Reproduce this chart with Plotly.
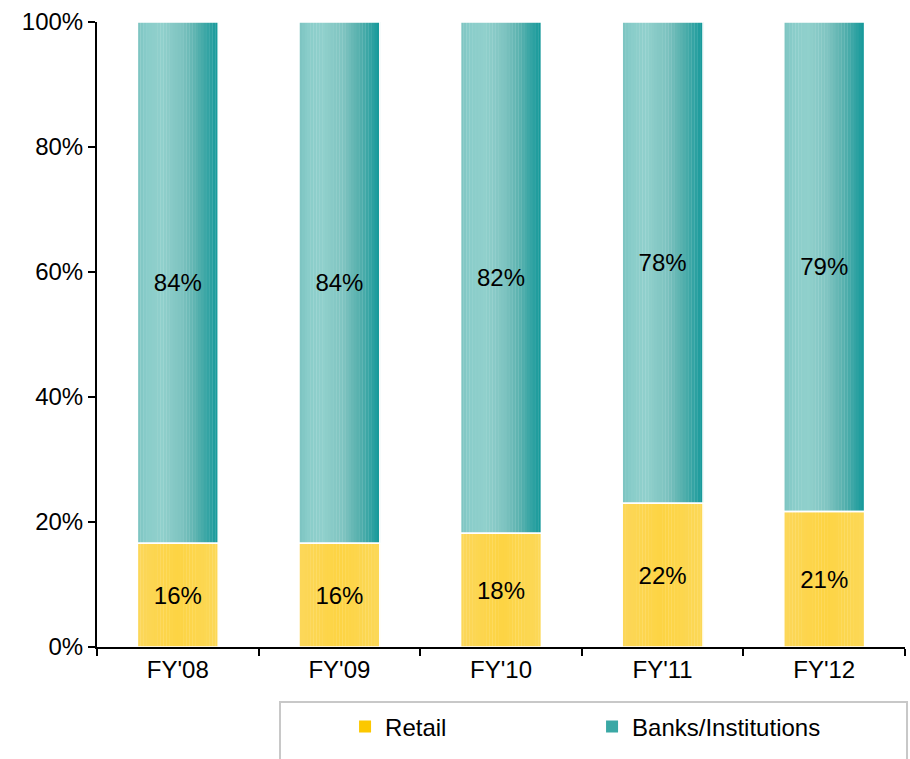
import plotly.graph_objects as go

categories = ["FY'08", "FY'09", "FY'10", "FY'11", "FY'12"]
retail = [16.6, 16.6, 18.2, 23.0, 21.7]
banks = [83.4, 83.4, 81.8, 77.0, 78.3]
retail_labels = ["16%", "16%", "18%", "22%", "21%"]
banks_labels = ["84%", "84%", "82%", "78%", "79%"]
y_ticks = [0, 20, 40, 60, 80, 100]
y_tick_text = ["0%", "20%", "40%", "60%", "80%", "100%"]

FONT = "Liberation Sans, Arial, sans-serif"
FS = 24
BAR_W = 0.5
N = 28

def lerp_hex(stops, t):
    for (t0, c0), (t1, c1) in zip(stops, stops[1:]):
        if t0 <= t <= t1:
            f = (t - t0) / (t1 - t0) if t1 > t0 else 0
            a = [int(c0[i:i + 2], 16) for i in (1, 3, 5)]
            b = [int(c1[i:i + 2], 16) for i in (1, 3, 5)]
            return "#%02x%02x%02x" % tuple(round(a[k] + (b[k] - a[k]) * f) for k in range(3))
    return stops[-1][1]

teal_stops = [(0.0, "#7cc4c1"), (0.12, "#8acdca"), (0.3, "#90d0cc"),
              (0.55, "#7ec3c0"), (0.75, "#55b0ad"), (1.0, "#13989a")]
gold_stops = [(0.0, "#fcd75a"), (0.5, "#fdd443"), (1.0, "#fcd858")]

fig = go.Figure()
sw = BAR_W / N
for i in range(N):
    t = (i + 0.5) / N
    fig.add_trace(go.Bar(
        x=categories, y=retail, base=[0] * len(retail),
        offset=-BAR_W / 2 + i * sw, width=sw * 1.1,
        marker=dict(color=lerp_hex(gold_stops, t), line=dict(width=0)),
        showlegend=False, hoverinfo="skip"))
    fig.add_trace(go.Bar(
        x=categories, y=banks, base=retail,
        offset=-BAR_W / 2 + i * sw, width=sw * 1.1,
        marker=dict(color=lerp_hex(teal_stops, t), line=dict(width=0)),
        showlegend=False, hoverinfo="skip"))

# labels (transparent bars, white outline gives the separator line)
fig.add_trace(go.Bar(
    x=categories, y=banks, base=retail, width=BAR_W,
    marker=dict(color="rgba(0,0,0,0)", line=dict(color="white", width=1.5)),
    text=banks_labels, textposition="inside", insidetextanchor="middle",
    textfont=dict(family=FONT, size=FS, color="#000000"),
    showlegend=False, hoverinfo="skip"))
fig.add_trace(go.Bar(
    x=categories, y=retail, base=[0] * len(retail), width=BAR_W,
    marker=dict(color="rgba(0,0,0,0)", line=dict(color="white", width=1.5)),
    text=retail_labels, textposition="inside", insidetextanchor="middle",
    textfont=dict(family=FONT, size=FS, color="#000000"),
    showlegend=False, hoverinfo="skip"))

# legend entries
fig.add_trace(go.Bar(x=[categories[0]], y=[0], name="Retail",
                     marker=dict(color="#fcc800", line=dict(width=0))))
fig.add_trace(go.Bar(x=[categories[0]], y=[0], name="Banks/Institutions",
                     marker=dict(color="#3aa8a5", line=dict(width=0))))

fig.update_layout(
    width=910, height=759,
    barmode="overlay",
    plot_bgcolor="white", paper_bgcolor="white",
    margin=dict(l=97, r=5, t=22, b=112),
    font=dict(family=FONT, size=FS, color="#000000"),
    xaxis=dict(showline=True, linecolor="#000000", linewidth=2,
               ticks="outside", tickson="boundaries", ticklen=7, tickwidth=2,
               tickcolor="#000000", showgrid=False,
               tickfont=dict(family=FONT, size=FS)),
    yaxis=dict(range=[0, 100], tickvals=y_ticks, ticktext=y_tick_text,
               showline=True, linecolor="#000000", linewidth=2,
               ticks="outside", ticklen=7, tickwidth=2, tickcolor="#000000",
               showgrid=False, zeroline=False,
               tickfont=dict(family=FONT, size=FS)),
    legend=dict(orientation="h", x=0.307, y=-0.128, xanchor="left", yanchor="middle",
                font=dict(family=FONT, size=FS), entrywidth=202,
                bgcolor="rgba(0,0,0,0)"),
    shapes=[dict(type="rect", xref="paper", yref="paper",
                 x0=0.2265, x1=1.0025, y0=-0.215, y1=-0.088,
                 line=dict(color="#c8c8c8", width=2), fillcolor="rgba(0,0,0,0)")],
)

fig.write_html("out.html", config={"displayModeBar": False},
               post_script="document.body.style.margin='0';")
